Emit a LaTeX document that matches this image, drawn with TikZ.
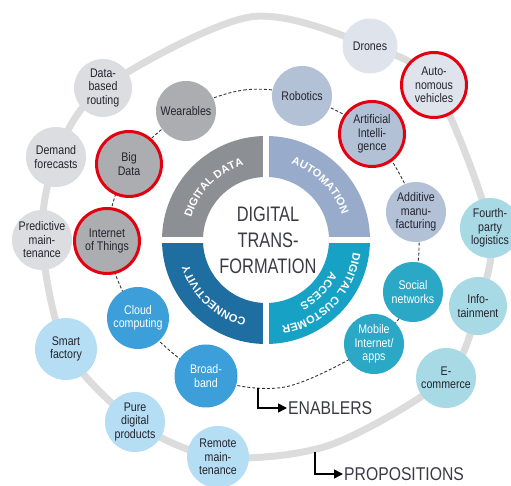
\documentclass[tikz,border=0pt]{standalone}
\usepackage{fontspec}
\setmainfont{Liberation Sans}
\newfontfamily\narrowfont[FakeStretch=0.85]{Liberation Sans}
\newfontfamily\corefont[FakeStretch=0.78]{Liberation Sans}
\usetikzlibrary{arrows.meta,decorations.text,backgrounds}

\definecolor{txtdark}{HTML}{24242E}
\definecolor{coretxt}{HTML}{3A3A44}
\definecolor{hlred}{HTML}{E3000F}
\definecolor{ddata}{HTML}{8C9095}
\definecolor{autom}{HTML}{98ABCB}
\definecolor{conn}{HTML}{1E6EA2}
\definecolor{dca}{HTML}{17A2C5}
\definecolor{engray}{HTML}{ABADB1}
\definecolor{ensteel}{HTML}{B3C1D7}
\definecolor{encyan}{HTML}{2AA8C6}
\definecolor{enblue}{HTML}{3C9FD9}
\definecolor{prlight}{HTML}{DEE3EC}
\definecolor{prcyan}{HTML}{A8DAE6}
\definecolor{prblue}{HTML}{B5DDF3}
\definecolor{prgray}{HTML}{DCDDE0}
\definecolor{arcgray}{HTML}{DCDCDC}

\newcommand\ringlabel{\bfseries\fontsize{11}{12}\selectfont}

\begin{document}
\begin{tikzpicture}[
    x=1pt, y=1pt,
    font=\narrowfont\fontsize{12.5}{13.5}\selectfont,
    bubble/.style={
        circle,
        minimum size=60pt,
        inner sep=0pt,
        align=center,
        text=txtdark
    },
    hl/.style={
        draw=hlred,
        line width=3pt,
        minimum size=65pt
    },
    light/.style={text=white},
    enline/.style={
        draw=black!80,
        line width=0.9pt,
        dash pattern=on 3pt off 2pt
    },
    prline/.style={
        draw=arcgray,
        line width=7pt
    },
    lpointer/.style={
        line width=1.5pt,
        -{Triangle[length=9pt,width=9pt]}
    },
    caption/.style={
        font=\narrowfont\fontsize{18.5}{20}\selectfont,
        text=coretxt,
        inner sep=1pt
    },
    ringtext/.style={
        decorate,
        decoration={text along path, text align=center, text color=white, text={|\ringlabel|#1}}
    }
]

\useasboundingbox (0,0) rectangle (511,486);

\coordinate (core) at (266,246);

\fill[ddata] (core) ++(90:63) arc[start angle=90, end angle=180, radius=63]
    -- ++(180:41) arc[start angle=180, end angle=90, radius=104] -- cycle;
\fill[autom] (core) ++(0:63) arc[start angle=0, end angle=90, radius=63]
    -- ++(90:41) arc[start angle=90, end angle=0, radius=104] -- cycle;
\fill[conn] (core) ++(180:63) arc[start angle=180, end angle=270, radius=63]
    -- ++(270:41) arc[start angle=270, end angle=180, radius=104] -- cycle;
\fill[dca] (core) ++(270:63) arc[start angle=270, end angle=360, radius=63]
    -- ++(0:41) arc[start angle=360, end angle=270, radius=104] -- cycle;
\draw[white, line width=6pt] (core) ++(-106,0) -- ++(212,0);
\draw[white, line width=6pt] (core) ++(0,-106) -- ++(0,212);

\path[ringtext={DIGITAL DATA}] (core) ++(178:78) arc[start angle=178, end angle=92, radius=78];
\path[ringtext={AUTOMATION}] (core) ++(88:80) arc[start angle=88, end angle=2, radius=80];
\path[ringtext={CONNECTIVITY}] (core) ++(270:81) arc[start angle=270, end angle=184, radius=81];
\path[ringtext={DIGITAL CUSTOMER}] (core) ++(0:88) arc[start angle=0, end angle=-88, radius=88];
\path[ringtext={ACCESS}] (core) ++(-2:72) arc[start angle=-2, end angle=-86, radius=72];

\node[font=\corefont\fontsize{21}{26}\selectfont, text=coretxt, align=center] (title) at (268,246)
    {DIGITAL\\TRANS-\\FORMATION};

\node[bubble, fill=engray] (wear) at (186,375) {Wearables};
\node[bubble, fill=ensteel] (robot) at (302,390) {Robotics};
\node[bubble, hl, fill=ensteel] (ai) at (372,352) {Artificial\\Intelli-\\gence};
\node[bubble, fill=ensteel] (additive) at (416,274) {Additive\\manu-\\facturing};
\node[bubble, light, fill=encyan] (social) at (413,194) {Social\\networks};
\node[bubble, light, fill=encyan] (mobile) at (374,142) {Mobile\\Internet/\\apps};
\node[bubble, light, fill=enblue, minimum size=63pt] (broad) at (206,110) {Broad-\\band};
\node[bubble, light, fill=enblue, minimum size=62pt] (cloud) at (138,168) {Cloud\\computing};
\node[bubble, hl, fill=engray] (iot) at (107,245) {Internet\\of Things};
\node[bubble, hl, fill=engray] (bigdata) at (129,322) {Big\\Data};

\node[bubble, fill=prlight, minimum size=55pt] (drones) at (370,440) {Drones};
\node[bubble, hl, fill=prlight] (auto) at (434,401) {Auto-\\nomous\\vehicles};
\node[bubble, fill=prcyan] (fourth) at (490,258) {Fourth-\\party\\logistics};
\node[bubble, fill=prcyan, minimum size=58pt] (info) at (478,180) {Info-\\tainment};
\node[bubble, fill=prcyan] (ecomm) at (446,108) {E-\\commerce};
\node[bubble, fill=prblue, minimum size=62pt] (remote) at (218,29) {Remote\\main-\\tenance};
\node[bubble, fill=prblue] (pure) at (135,64) {Pure\\digital\\products};
\node[bubble, fill=prblue, minimum size=62pt] (smart) at (66,137) {Smart\\factory};
\node[bubble, fill=prgray] (predictive) at (42,246) {Predictive\\main-\\tenance};
\node[bubble, fill=prgray] (demand) at (56,329) {Demand\\forecasts};
\node[bubble, fill=prgray, minimum size=58pt] (databased) at (103,398) {Data-\\based\\routing};

\coordinate (etop) at (244,396);
\coordinate (ebot) at (285,99);
\coordinate (ptop) at (250,469);
\coordinate (pbot) at (330,41);
\coordinate (enstart) at (258,98);
\coordinate (prstart) at (315,34);

\begin{pgfonlayer}{background}
\draw[prline] plot[smooth cycle] coordinates {(databased.center) (ptop) (drones.center) (auto.center)
    (fourth.center) (info.center) (ecomm.center) (pbot) (remote.center) (pure.center)
    (smart.center) (predictive.center) (demand.center)};
\draw[enline] plot[smooth cycle] coordinates {(wear.center) (etop) (robot.center) (ai.center)
    (additive.center) (social.center) (mobile.center) (ebot) (broad.center) (cloud.center)
    (iot.center) (bigdata.center)};
\end{pgfonlayer}

\node[caption, anchor=west] (enablers) at (287,78) {ENABLERS};
\node[caption, anchor=west] (propositions) at (343,12) {PROPOSITIONS};

\draw[lpointer] (enstart) |- (enablers.west);
\draw[lpointer] (prstart) |- (propositions.west);

\end{tikzpicture}
\end{document}
